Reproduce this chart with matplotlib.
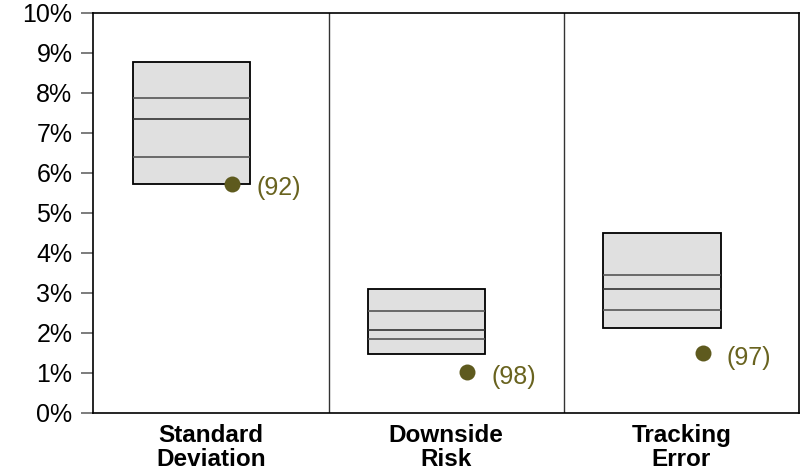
import matplotlib
matplotlib.use("Agg")
import matplotlib.pyplot as plt
import numpy as np

plt.rcParams['font.family'] = ['Liberation Sans', 'DejaVu Sans']

categories = ["Standard\nDeviation", "Downside\nRisk", "Tracking\nError"]
p95 = [8.78, 3.09, 4.50]
p75 = [7.86, 2.54, 3.45]
p50 = [7.34, 2.07, 3.09]
p25 = [6.40, 1.86, 2.57]
p05 = [5.71, 1.48, 2.12]
fund = [5.73, 1.02, 1.49]
ranks = ["(92)", "(98)", "(97)"]
yticks = [0, 1, 2, 3, 4, 5, 6, 7, 8, 9, 10]

fig = plt.figure(figsize=(8.04, 4.74), dpi=100)
ax = fig.add_axes([0.116, 0.1287, 0.8778, 0.8445])

x = np.arange(len(categories))
box_off = -0.083
box_w = 0.5
heights = np.array(p95) - np.array(p05)
ax.bar(x + box_off, heights, width=box_w, bottom=p05, color='#e0e0e0',
       edgecolor='black', linewidth=1.3, zorder=2)
for arr, col in [(p75, '#555555'), (p50, '#333333'), (p25, '#555555')]:
    ax.hlines(arr, x + box_off - box_w / 2, x + box_off + box_w / 2,
              colors=col, linewidth=1.2, zorder=3)

dot_x = x + 0.09
ax.plot(dot_x, fund, 'o', color='#5e5a1e', markersize=11.5, zorder=4,
        markeredgewidth=0)
for xi, yi, r in zip(dot_x, fund, ranks):
    ax.annotate(r, (xi, yi), xytext=(17.3, -3.3), textcoords='offset points',
                ha='left', va='center', fontsize=18, color='#69631f')

for d in [0.5, 1.5]:
    ax.axvline(d, color='#333333', linewidth=1.0, zorder=1)

ax.set_xlim(-0.5, 2.5)
ax.set_ylim(0, 10)
ax.set_yticks(yticks)
ax.set_yticklabels([f"{t}%" for t in yticks], fontsize=18)
ax.tick_params(axis='y', length=9, width=1.2, color='#666666', pad=6)
ax.set_xticks(x)
ax.set_xticklabels(categories, fontsize=17.5, fontweight='bold', linespacing=1.05)
ax.tick_params(axis='x', length=0, pad=8)
for s in ax.spines.values():
    s.set_color('black')
    s.set_linewidth(1.2)

fig.savefig('out.png', dpi=100)
